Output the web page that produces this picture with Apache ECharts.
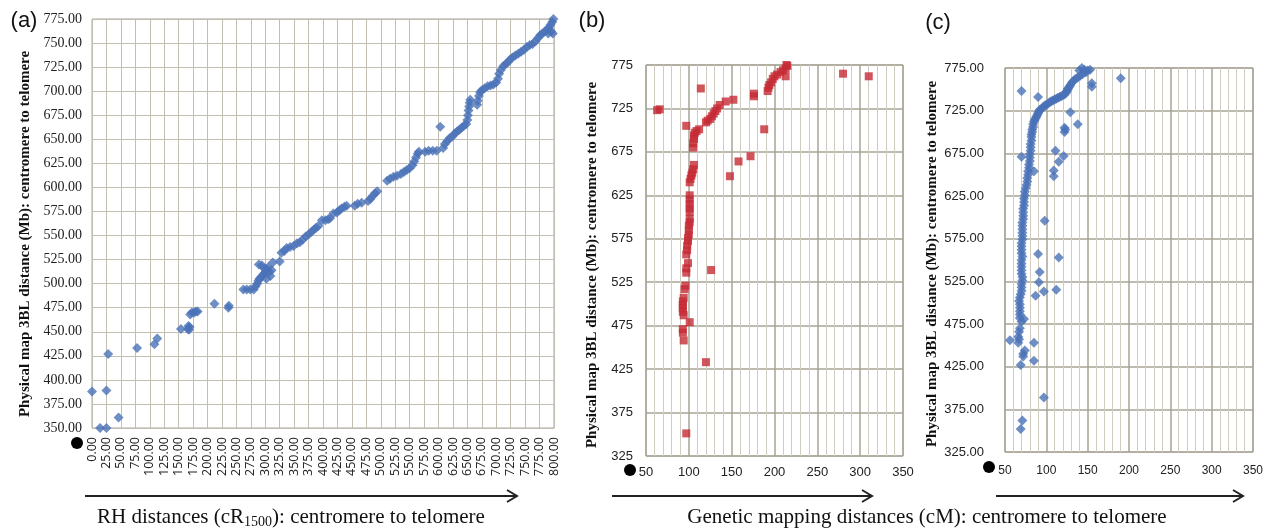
<!DOCTYPE html>
<html>
<head>
<meta charset="utf-8">
<script src="https://cdn.jsdelivr.net/npm/echarts@6/dist/echarts.min.js"></script>
<style>
  html, body { margin: 0; padding: 0; background: #fff; }
  #chart { width: 1273px; height: 531px; }
</style>
</head>
<body>
<div id="chart"></div>
<script>
// (a) RH distances vs physical map
const rhPoints = [
  [0, 388], [14, 350], [25, 350], [25, 389], [28, 427], [46, 361], [78, 433], [108, 437], [113, 443],
  [154, 453], [166, 453], [167, 456], [169, 455], [168, 452], [170, 468], [173, 470], [177, 470],
  [180, 471], [183, 471], [212, 479], [236, 475], [237, 477], [262, 494], [268, 494], [274, 494],
  [280, 494], [283, 497], [286, 500], [288, 503], [290, 505], [293, 507], [296, 509], [299, 511],
  [301, 513], [303, 515], [305, 517], [307, 512], [309, 508], [311, 514], [289, 520], [294, 519],
  [298, 516], [302, 505], [313, 522], [325, 523], [328, 532], [333, 534], [337, 537], [343, 538],
  [349, 539], [355, 542], [360, 543], [365, 546], [370, 549], [375, 551], [380, 554], [384, 556],
  [388, 558], [392, 560], [398, 566], [404, 566], [409, 567], [412, 568], [418, 573], [424, 574],
  [428, 576], [432, 578], [437, 580], [441, 581], [455, 581], [460, 583], [467, 584], [478, 586],
  [482, 588], [486, 591], [490, 594], [494, 596], [511, 607], [516, 609], [522, 611], [528, 612],
  [535, 614], [540, 616], [545, 618], [550, 620], [555, 623], [558, 627], [561, 631], [564, 635],
  [566, 637], [577, 637], [583, 638], [590, 638], [597, 638], [603, 663], [608, 641], [611, 645],
  [615, 648], [619, 651], [624, 653], [628, 656], [632, 658], [636, 660], [640, 662], [644, 664],
  [648, 666], [650, 670], [651, 675], [652, 680], [653, 684], [654, 688], [655, 691], [667, 686],
  [668, 690], [670, 695], [672, 699], [675, 701], [680, 703], [685, 705], [690, 706], [695, 707],
  [700, 709], [703, 713], [705, 718], [708, 722], [712, 726], [716, 728], [720, 730], [724, 733],
  [728, 735], [733, 737], [738, 739], [743, 741], [748, 743], [753, 746], [758, 748], [763, 749],
  [768, 752], [772, 755], [776, 758], [780, 760], [784, 762], [788, 764], [791, 766], [794, 769],
  [797, 772], [799, 775], [798, 760], [795, 762], [790, 760]
];

// (b) genetic map (red)
const geneticRed = [
  [63, 723], [66, 724], [114, 748], [97, 705], [105, 680], [105, 685], [106, 690], [106, 694],
  [107, 697], [109, 699], [112, 701], [120, 709], [122, 711], [125, 713], [127, 716], [129, 719],
  [131, 722], [133, 725], [136, 729], [143, 733], [152, 735], [148, 647], [158, 664], [172, 670],
  [176, 739], [176, 742], [188, 701], [192, 745], [193, 749], [194, 752], [196, 755], [198, 759],
  [200, 762], [203, 764], [207, 767], [210, 769], [213, 771], [215, 774], [214, 775], [213, 762],
  [280, 765], [310, 762], [106, 660], [105, 655], [104, 651], [103, 648], [102, 644], [101, 640],
  [101, 625], [101, 620], [101, 615], [101, 610], [101, 606], [101, 598], [101, 594], [100, 590],
  [100, 585], [100, 580], [99, 576], [99, 572], [98, 567], [98, 562], [97, 557], [99, 547],
  [97, 541], [97, 536], [96, 521], [95, 517], [94, 507], [93, 503], [93, 499], [93, 495],
  [93, 491], [94, 487], [101, 479], [93, 471], [93, 467], [94, 458], [120, 433], [126, 539], [97, 351]
];

// (c) genetic map (blue)
const geneticBlue = [
  [140, 772], [143, 775], [146, 773], [150, 772], [153, 773], [148, 770], [144, 768], [141, 766],
  [138, 764], [135, 762], [133, 760], [131, 758], [129, 755], [128, 753], [126, 751], [155, 757],
  [155, 753], [190, 763], [126, 750], [125, 748], [124, 746], [122, 744], [120, 743], [118, 742],
  [116, 741], [114, 740], [112, 739], [110, 738], [108, 737], [106, 736], [104, 735], [102, 733],
  [100, 732], [98, 731], [96, 729], [94, 727], [92, 726], [91, 724], [90, 722], [89, 720],
  [88, 718], [87, 716], [86, 714], [85, 712], [84, 709], [84, 706], [83, 703], [83, 700],
  [82, 697], [82, 694], [82, 690], [81, 686], [81, 682], [81, 678], [80, 674], [80, 670],
  [70, 748], [90, 741], [70, 671], [85, 654], [80, 666], [79, 662], [79, 658], [78, 654],
  [78, 650], [77, 646], [77, 642], [76, 638], [75, 634], [74, 630], [74, 626], [73, 622],
  [73, 618], [73, 614], [72, 610], [72, 606], [72, 602], [72, 598], [71, 594], [71, 590],
  [71, 586], [71, 582], [71, 578], [71, 574], [70, 570], [70, 566], [70, 562], [70, 558],
  [71, 554], [70, 550], [70, 546], [70, 542], [70, 538], [70, 534], [71, 530], [71, 526],
  [70, 522], [70, 518], [70, 514], [69, 510], [68, 506], [67, 502], [68, 498], [68, 494],
  [68, 490], [68, 486], [68, 482], [73, 481], [70, 478], [56, 456], [66, 453], [67, 457],
  [66, 460], [67, 466], [68, 470], [74, 444], [72, 440], [72, 437], [69, 427], [85, 453],
  [85, 432], [97, 389], [71, 362], [69, 352], [111, 678], [115, 665], [121, 672], [109, 655],
  [109, 648], [122, 700], [123, 703], [122, 705], [129, 723], [138, 709], [98, 596], [90, 557],
  [115, 553], [92, 536], [91, 524], [87, 508], [97, 513], [112, 515]
];

const yName = 'Physical map 3BL distance (Mb): centromere to telomere';
const blue = '#4a72b8';
const red = '#c62a35';

function arrow(x1, x2, y) {
  return [
    { type: 'line', shape: { x1: x1, y1: y, x2: x2, y2: y }, style: { stroke: '#222', lineWidth: 2 } },
    { type: 'polyline', shape: { points: [[x2 - 10, y - 6], [x2, y], [x2 - 10, y + 6]] },
      style: { stroke: '#222', lineWidth: 2, fill: null } }
  ];
}

function label(text, x, y, font, rich, rotation) {
  return {
    type: 'text', x: x, y: y, rotation: rotation || 0,
    style: {
      text: text, font: font, fill: '#111', rich: rich,
      align: 'center', verticalAlign: 'middle', textAlign: 'center', textVerticalAlign: 'middle'
    }
  };
}

const chart = echarts.init(document.getElementById('chart'));

chart.setOption({
  animation: false,
  grid: [
    { left: 92, top: 19, width: 462, height: 409, show: true, borderColor: '#aaa69a', borderWidth: 1 },
    { left: 646, top: 65, width: 257, height: 391, show: true, borderColor: '#a7a395', borderWidth: 1 },
    { left: 1005, top: 68, width: 248, height: 384, show: true, borderColor: '#a7a395', borderWidth: 1 }
  ],
  xAxis: [
    {
      gridIndex: 0, type: 'value', min: 0, max: 800, interval: 25,
      axisLine: { show: false }, axisTick: { show: false },
      axisLabel: { rotate: 90, margin: 9, fontSize: 12.5, fontFamily: 'Open Sans', color: '#222',
        formatter: (v) => v.toFixed(2) },
      splitLine: { show: true, lineStyle: { color: '#c2beb2' } }
    },
    {
      gridIndex: 1, type: 'value', min: 50, max: 350, interval: 50,
      axisLine: { show: false }, axisTick: { show: false },
      axisLabel: { margin: 10, fontSize: 13, fontFamily: 'Liberation Sans', color: '#222' },
      splitLine: { show: true, lineStyle: { color: '#a7a395', width: 1.5 } },
      minorTick: { show: false, splitNumber: 5 },
      minorSplitLine: { show: true, lineStyle: { color: '#d0ccc0' } }
    },
    {
      gridIndex: 2, type: 'value', min: 50, max: 350, interval: 50,
      axisLine: { show: false }, axisTick: { show: false },
      axisLabel: { margin: 13, fontSize: 12, fontFamily: 'Liberation Sans', color: '#222' },
      splitLine: { show: true, lineStyle: { color: '#a7a395', width: 1.5 } },
      minorTick: { show: false, splitNumber: 5 },
      minorSplitLine: { show: true, lineStyle: { color: '#d0ccc0' } }
    }
  ],
  yAxis: [
    {
      gridIndex: 0, type: 'value', min: 350, max: 775, interval: 25,
      axisLine: { show: false }, axisTick: { show: false },
      axisLabel: { margin: 10, fontSize: 14, fontFamily: 'Liberation Serif', color: '#222',
        formatter: (v) => v.toFixed(2) },
      splitLine: { show: true, lineStyle: { color: '#c2beb2' } }
    },
    {
      gridIndex: 1, type: 'value', min: 325, max: 775, interval: 50,
      axisLine: { show: false }, axisTick: { show: false },
      axisLabel: { margin: 13, fontSize: 13, fontFamily: 'Liberation Sans', color: '#222' },
      splitLine: { show: true, lineStyle: { color: '#a7a395', width: 1.5 } }
    },
    {
      gridIndex: 2, type: 'value', min: 325, max: 775, interval: 50,
      axisLine: { show: false }, axisTick: { show: false },
      axisLabel: { margin: 21, fontSize: 13, fontFamily: 'Liberation Sans', color: '#222',
        formatter: (v) => v.toFixed(2) },
      splitLine: { show: true, lineStyle: { color: '#a7a395', width: 1.5 } }
    }
  ],
  series: [
    { type: 'scatter', xAxisIndex: 0, yAxisIndex: 0, data: rhPoints,
      symbol: 'diamond', symbolSize: 10, itemStyle: { color: blue } },
    { type: 'scatter', xAxisIndex: 1, yAxisIndex: 1, data: geneticRed,
      symbol: 'rect', symbolSize: 8, itemStyle: { color: red } },
    { type: 'scatter', xAxisIndex: 2, yAxisIndex: 2, data: geneticBlue,
      symbol: 'diamond', symbolSize: 10, itemStyle: { color: blue } }
  ],
  graphic: [
    label('(a)', 24, 21, '22px Liberation Sans'),
    label('(b)', 592, 21, '22px Liberation Sans'),
    label('(c)', 938, 23, '22px Liberation Sans'),
    label(yName, 25, 234, 'bold 15px Liberation Serif', null, Math.PI / 2),
    label(yName, 592, 265, 'bold 15px Liberation Serif', null, Math.PI / 2),
    label(yName, 932, 264, 'bold 15px Liberation Serif', null, Math.PI / 2),
    { type: 'circle', shape: { cx: 77, cy: 443, r: 6 }, style: { fill: '#000' } },
    { type: 'circle', shape: { cx: 630, cy: 470, r: 6 }, style: { fill: '#000' } },
    { type: 'circle', shape: { cx: 989, cy: 467, r: 6 }, style: { fill: '#000' } },
    ...arrow(85, 517, 496),
    ...arrow(612, 872, 496),
    ...arrow(996, 1243, 496),
    label('{t|RH distances (cR}{s|1500}{t|): centromere to telomere}', 291, 517, '21px Liberation Serif', {
      t: { fontFamily: 'Liberation Serif', fontSize: 21, color: '#111' },
      s: { fontFamily: 'Liberation Serif', fontSize: 14, color: '#111', padding: [10, 0, 0, 0] }
    }),
    label('Genetic mapping distances (cM): centromere to telomere', 927, 517, '21px Liberation Serif')
  ]
});
</script>
</body>
</html>
